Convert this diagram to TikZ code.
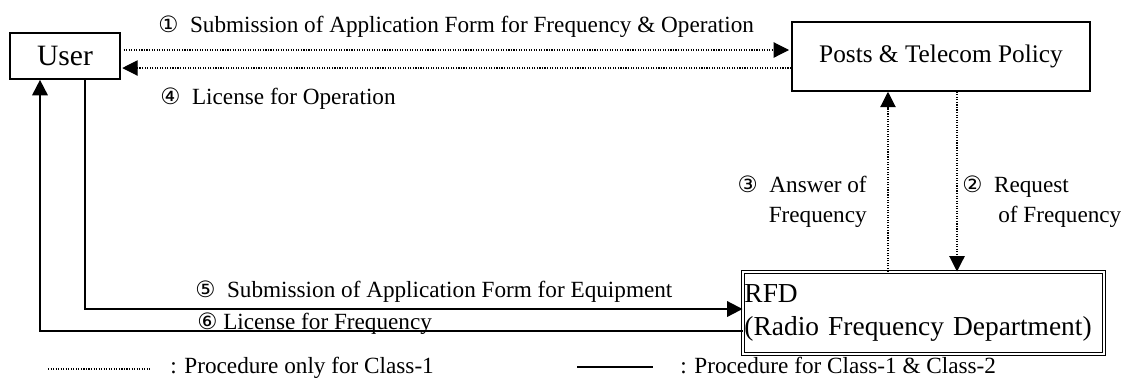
\documentclass[tikz,border=0pt]{standalone}
\usepackage{fontspec}
\setmainfont{Liberation Serif}
\newfontfamily\circfont{DejaVu Sans}
\usetikzlibrary{arrows.meta,positioning,calc}
\newcommand{\cnum}[1]{{\circfont\fontsize{16}{16}\selectfont #1}}

\begin{document}
\begin{tikzpicture}[
  x=0.025cm, y=-0.025cm,
  >={Triangle[length=11pt,width=11pt]},
  ent/.style={rectangle, draw, line width=1.2pt, inner sep=0pt, align=center},
  lbl/.style={inner sep=0pt, font=\fontsize{16.5}{21.5}\selectfont},
  legtxt/.style={inner sep=0pt, font=\fontsize{16.5}{20}\selectfont},
  onlyone/.style={line width=0.8pt, densely dotted},
  both/.style={line width=1.4pt},
]
\useasboundingbox (0,0) rectangle (1125,378);

% --- the three parties ---
\node[ent, minimum width=2.75cm, minimum height=1.15cm,
      font=\fontsize{21}{21}\selectfont] (user) at (65,56) {User};
\node[ent, minimum width=7.45cm, minimum height=1.72cm,
      font=\fontsize{18}{18}\selectfont] (posts) at (941,56.5) {Posts \& Telecom Policy};
\node[rectangle, draw, line width=0.7pt, double, double distance=2pt,
      minimum width=9.02cm, minimum height=2.05cm, text width=8.95cm,
      inner xsep=1pt, align=left,
      font=\fontsize{19.5}{23.5}\selectfont] (rfd) at (923.5,313)
      {RFD\\(Radio Frequency Department)};

% --- Class-1 only (dotted) ---
\draw[onlyone,->,shorten <=2pt,shorten >=1.5pt] ([yshift=1.5mm]user.east) -- ([yshift=1.5mm]user.east -| posts.west);
\draw[onlyone,->,shorten >=1pt] ([yshift=-3mm]user.east -| posts.west) -- ([yshift=-3mm]user.east);
\draw[onlyone,->] ([xshift=4mm]posts.south) -- ([xshift=4mm]posts.south |- rfd.north);
\draw[onlyone,->] ([xshift=-13.25mm]posts.south |- rfd.north) -- ([xshift=-13.25mm]posts.south);

% --- Class-1 & Class-2 (solid) ---
\draw[both,->] ([xshift=5mm]user.south) |- ([yshift=1mm]rfd.west);
\draw[both,->] ([yshift=-4.5mm]rfd.west) -| ([xshift=-6.25mm]user.south);

% --- step labels ---
\node[lbl, anchor=base west] (l1) at (158,32) {\cnum{①}\ \ Submission of Application Form for Frequency \& Operation};
\node[lbl, anchor=base west] (l4) at (160,104) {\cnum{④}\ \ License for Operation};
\node[lbl, anchor=east, align=right] (l3) at (867,202) {\cnum{③}\ \ Answer of\\Frequency};
\node[lbl, anchor=west, align=left] (l2) at (962,202) {\cnum{②}\ \ Request\\\hspace*{0.9cm}of Frequency};
\node[lbl, anchor=base west] (l5) at (195,297) {\cnum{⑤}\ \ Submission of Application Form for Equipment};
\node[lbl, anchor=base west] (l6) at (197,329) {\cnum{⑥}\ License for Frequency};

% --- legend ---
\draw[onlyone] (48,369) -- (150,369);
\node[legtxt, anchor=base west] (leg1) at (170,373) {: Procedure only for Class-1};
\draw[line width=0.8pt] (577,367) -- (653,367);
\node[legtxt, anchor=base west] (leg2) at (680,373) {: Procedure for Class-1 \& Class-2};

\end{tikzpicture}
\end{document}
